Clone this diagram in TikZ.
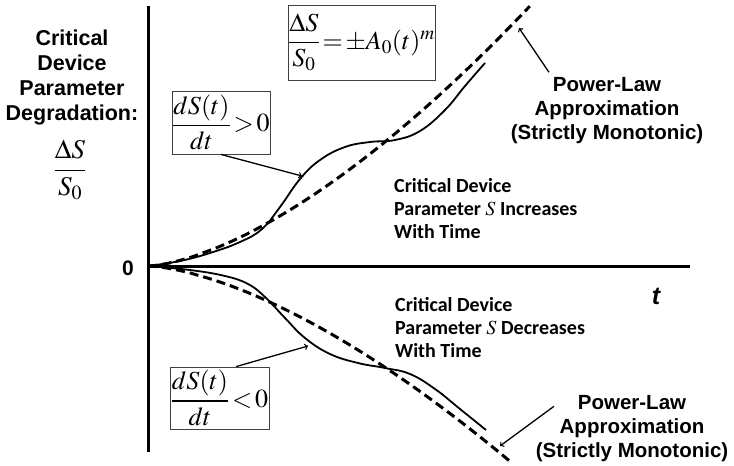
\documentclass[tikz,border=0pt]{standalone}
\usepackage{amsmath}
\usepackage{mathptmx}
\usepackage[no-math]{fontspec}
\setmainfont{Liberation Serif}
\newfontfamily\arialfont{Liberation Sans}
\newfontfamily\calibrifont{Carlito}
\usetikzlibrary{calc}

\tikzset{
  axis/.style={line width=3pt},
  curve/.style={line width=1.8pt},
  approx/.style={line width=3pt, dash pattern=on 9pt off 5pt},
  pointer/.style={->, line width=1.3pt},
  mathbox/.style={draw=black!75, line width=0.9pt, inner sep=0pt, font=\fontsize{26}{30}\selectfont},
  bigsans/.style={font=\arialfont\bfseries\fontsize{20.5}{24}\selectfont, align=center},
  midtext/.style={font=\calibrifont\bfseries\fontsize{20}{23}\selectfont, align=left, anchor=west, inner sep=0pt}
}

\begin{document}
\begin{tikzpicture}[x=1pt,y=-1pt]
  \useasboundingbox (0,0) rectangle (734,466);
  \coordinate (O) at (148,266);
  \coordinate (ytop) at (148,6);
  \coordinate (ybot) at (148,452);
  \coordinate (xend) at (690,266);
  \draw [axis] (ytop) -- (ybot);
  \draw [axis] (O) -- (xend);

  \node [font=\arialfont\bfseries\fontsize{21}{24}\selectfont] (zero) at (128,268) {0};
  \node [font=\arialfont\bfseries\itshape\fontsize{25}{30}\selectfont] (time) at (656,296) {t};
  \node [bigsans, font=\arialfont\bfseries\fontsize{21.5}{25}\selectfont] (ylabel) at (72,77) {Critical\\Device\\Parameter\\Degradation:};
  \node [font=\fontsize{27}{32}\selectfont] (yfrac) at (70,170) {$\dfrac{\Delta S}{S_0}$};

  \node [mathbox, minimum width=147pt, minimum height=75pt] (law) at (361.5,42.5) {$\dfrac{\Delta S}{S_0}\!=\!\pm A_0(t)^m$};
  \node [mathbox, minimum width=98pt, minimum height=63pt] (grow) at (221,122.5) {$\dfrac{dS(t)}{dt}\!>\!0$};
  \node [mathbox, minimum width=99pt, minimum height=62pt] (shrink) at (219.5,398) {$\dfrac{dS(t)}{dt}\!<\!0$};

  \node [midtext] (uptext) at (394,209) {Critical Device\\Parameter $S$ Increases\\With Time};
  \node [midtext] (downtext) at (395,328) {Critical Device\\Parameter $S$ Decreases\\With Time};
  \node [bigsans] (uplaw) at (607,111) {Power-Law\\Approximation\\(Strictly Monotonic)};
  \node [bigsans] (downlaw) at (632,429) {Power-Law\\Approximation\\(Strictly Monotonic)};

  \draw [approx] plot [domain=0.001:1, samples=60] ({148+382*\x},{266-260*\x^1.55});
  \draw [approx] plot [domain=0.001:1, samples=60] ({148+364*\x},{266+197*\x^1.55});
  \draw [curve] plot [smooth, tension=0.7] coordinates {(148,266) (180,261) (210,253) (240,242) (262,229) (280,207) (300,179) (320,160) (345,147) (370,142) (395,140) (420,131) (445,110) (465,86) (485,63)};
  \draw [curve] plot [smooth, tension=0.7] coordinates {(148,266) (190,270) (225,276) (248,284) (265,297) (285,318) (305,338) (330,354) (358,363) (385,368) (410,374) (435,389) (460,409) (486,430)};

  \coordinate (growtip) at (302,176);
  \coordinate (shrinktip) at (308,346);
  \coordinate (uplawtip) at (519,28);
  \coordinate (downlawtip) at (500,446);
  \draw [pointer] (grow.south) -- (growtip);
  \draw [pointer] (shrink.62) -- (shrinktip);
  \draw [pointer] ($(uplaw.north)+(-58,-2)$) -- (uplawtip);
  \draw [pointer] ($(downlaw.north)+(-78,14)$) -- (downlawtip);
\end{tikzpicture}
\end{document}
